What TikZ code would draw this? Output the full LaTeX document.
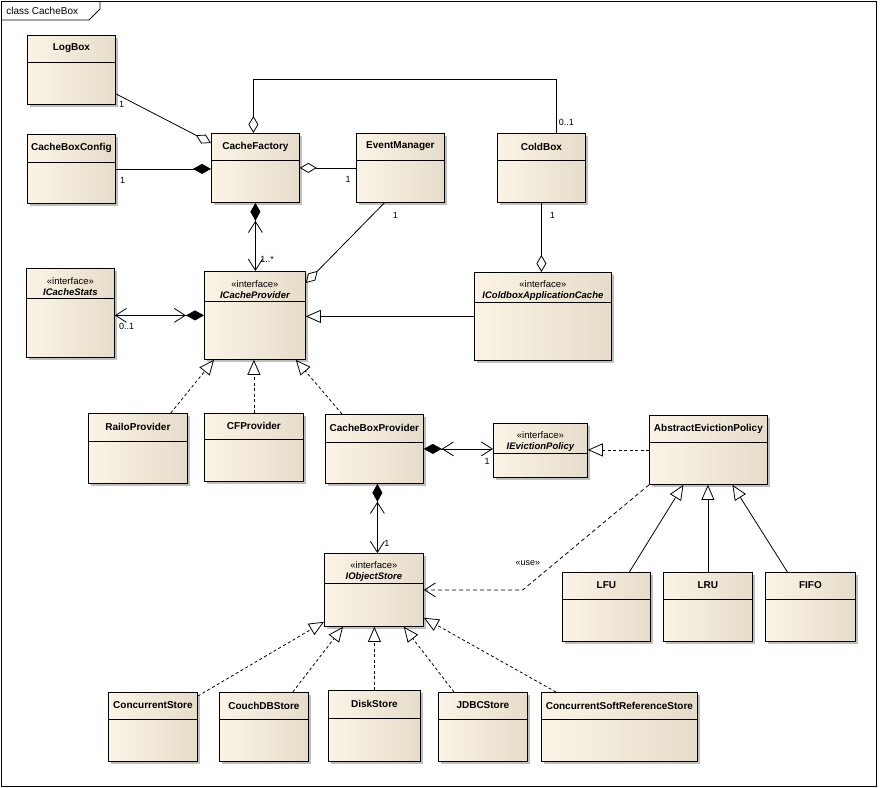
\documentclass[tikz,border=0pt]{standalone}
\usepackage{fontspec}
\setmainfont{Liberation Sans}
\usetikzlibrary{arrows.meta,shadows}

\definecolor{boxleft}{HTML}{FBF4E6}
\definecolor{boxright}{HTML}{E6DCCA}

\begin{document}
\begin{tikzpicture}
[x=1pt,y=-1pt,line width=0.8pt,%
  every node/.style={inner sep=0pt,font=\fontsize{9.5}{11}\selectfont},%
  umlbox/.style n args={3}{rectangle,draw,anchor=north west,
    left color=boxleft,right color=boxright,
    drop shadow={shadow xshift=3pt,shadow yshift=-3pt,fill=black!25,opacity=1},
    minimum width=#1,minimum height=#2,
    path picture={\draw ([yshift=-#3]path picture bounding box.north west)
      -- ([yshift=-#3]path picture bounding box.north east);}},%
  class/.style n args={4}{umlbox={#1}{#2}{#3},
    label={[anchor=center,yshift=-#3/2,font=\bfseries\fontsize{10}{12}\selectfont]north:#4}},%
  iface/.style n args={4}{umlbox={#1}{#2}{#3},
    label={[anchor=center,yshift=-19pt,align=center,font=\fontsize{9.5}{11}\selectfont]north:%
      «interface»\\{\bfseries\itshape #4}}},%
  mult/.style={font=\fontsize{9}{10}\selectfont},%
  aggr/.style={{Diamond[length=17pt,width=10pt,fill=white]}-},%
  comp/.style={{Diamond[length=18pt,width=10pt]}-},%
  compnav/.style={{Diamond[length=18pt,width=10pt] Straight Barb[length=11pt,width=14pt]}-{Straight Barb[length=11pt,width=14pt]}},%
  inherit/.style={-{Triangle[length=15pt,width=13pt,fill=white]}},%
  realize/.style={dash pattern=on 3pt off 2.5pt,-{Triangle[length=15pt,width=13pt,fill=white]}},%
  usedep/.style={dash pattern=on 4pt off 3pt,-{Straight Barb[length=11pt,width=14pt]}}]
\useasboundingbox (0,0) rectangle (880,787);
\draw (1,1) rectangle (876,786);
\draw (1,20) -- (89,20) -- (100,9) -- (100,1);
\node[anchor=west,font=\fontsize{10}{12}\selectfont] (title) at (6,11) {class CacheBox};

\node[class={88pt}{69pt}{27pt}{LogBox}] (logbox) at (27,35) {};
\node[class={88pt}{69pt}{28pt}{CacheBoxConfig}] (cacheboxconfig) at (27,134) {};
\node[class={88pt}{69pt}{27pt}{CacheFactory}] (cachefactory) at (211,133) {};
\node[class={88pt}{69pt}{27pt}{EventManager}] (eventmanager) at (356,133) {};
\node[class={88pt}{69pt}{27pt}{ColdBox}] (coldbox) at (497,133) {};
\node[iface={88pt}{89pt}{30pt}{ICacheStats}] (icachestats) at (26,268) {};
\node[iface={101pt}{88pt}{30pt}{ICacheProvider}] (icacheprovider) at (204,271) {};
\node[iface={137pt}{88pt}{30pt}{IColdboxApplicationCache}] (icoldbox) at (474,272) {};
\node[class={99pt}{70pt}{28pt}{RailoProvider}] (railoprovider) at (88,413) {};
\node[class={99pt}{68pt}{26pt}{CFProvider}] (cfprovider) at (204,413) {};
\node[class={98pt}{69pt}{28pt}{CacheBoxProvider}] (cacheboxprovider) at (325,414) {};
\node[iface={94pt}{54pt}{30pt}{IEvictionPolicy}] (ievictionpolicy) at (493,423) {};
\node[class={118pt}{69pt}{27pt}{AbstractEvictionPolicy}] (abstractevictionpolicy) at (649,415) {};
\node[class={88pt}{69pt}{27pt}{LFU}] (lfu) at (562,572) {};
\node[class={89pt}{69pt}{27pt}{LRU}] (lru) at (663,572) {};
\node[class={90pt}{69pt}{27pt}{FIFO}] (fifo) at (765,572) {};
\node[iface={99pt}{73pt}{30pt}{IObjectStore}] (iobjectstore) at (324,553) {};
\node[class={89pt}{69pt}{27pt}{ConcurrentStore}] (concurrentstore) at (108,692) {};
\node[class={89pt}{69pt}{27pt}{CouchDBStore}] (couchdbstore) at (219,692) {};
\node[class={92pt}{71pt}{28pt}{DiskStore}] (diskstore) at (328,690) {};
\node[class={89pt}{69pt}{27pt}{JDBCStore}] (jdbcstore) at (438,692) {};
\node[class={156pt}{69pt}{27pt}{ConcurrentSoftReferenceStore}] (softrefstore) at (541,692) {};

\draw[aggr] ([yshift=-10pt]cachefactory.north west) -- ([yshift=11pt]logbox.south east);
\draw[comp] (cachefactory.west |- cacheboxconfig.east) -- (cacheboxconfig.east);
\draw[aggr] (cachefactory.east |- eventmanager.west) -- (eventmanager.west);
\draw[aggr] ([xshift=-2pt]cachefactory.north) |- ([xshift=15pt,yshift=54pt]coldbox.north)
  -- ([xshift=15pt]coldbox.north);
\draw[aggr] (icoldbox.north -| coldbox.south) -- (coldbox.south);
\draw[aggr] ([yshift=-12pt]icacheprovider.north east) -- ([xshift=-16pt]eventmanager.south);
\draw[compnav] (cachefactory.south) -- (cachefactory.south |- icacheprovider.north);
\draw[compnav] (icacheprovider.west) -- (icacheprovider.west -| icachestats.east);
\draw[inherit] (icoldbox.west) -- (icoldbox.west -| icacheprovider.east);
\draw[realize] ([xshift=-17pt]railoprovider.north east) -- ([xshift=10pt]icacheprovider.south west);
\draw[realize] (cfprovider.north) -- (cfprovider.north |- icacheprovider.south);
\draw[realize] ([xshift=17pt]cacheboxprovider.north west) -- ([xshift=-10pt]icacheprovider.south east);
\draw[compnav] (cacheboxprovider.east) -- (cacheboxprovider.east -| ievictionpolicy.west);
\draw[realize] (abstractevictionpolicy.west) -- (abstractevictionpolicy.west -| ievictionpolicy.east);
\draw[inherit] ([xshift=23pt]lfu.north) -- ([xshift=-25pt]abstractevictionpolicy.south);
\draw[inherit] (lru.north) -- (lru.north |- abstractevictionpolicy.south);
\draw[inherit] ([xshift=-23pt]fifo.north) -- ([xshift=24pt]abstractevictionpolicy.south);
\draw[usedep] (abstractevictionpolicy.south west) -- ([xshift=99pt]iobjectstore.east) -- (iobjectstore.east);
\draw[compnav] ([xshift=3pt]cacheboxprovider.south) -- ([xshift=3pt]cacheboxprovider.south |- iobjectstore.north);
\draw[realize] ([yshift=-4pt]concurrentstore.north east) -- ([yshift=5pt]iobjectstore.south west);
\draw[realize] ([xshift=-16pt]couchdbstore.north east) -- ([xshift=19pt]iobjectstore.south west);
\draw[realize] (diskstore.north) -- (diskstore.north |- iobjectstore.south);
\draw[realize] ([xshift=16pt]jdbcstore.north west) -- ([xshift=-20pt]iobjectstore.south east);
\draw[realize] ([xshift=15pt]softrefstore.north west) -- ([yshift=9pt]iobjectstore.south east);

\node[mult,anchor=west] (mlogbox) at ([xshift=3pt]logbox.south east) {1};
\node[mult,anchor=west] (mconfig) at ([xshift=4pt,yshift=-12pt]cacheboxconfig.east) {1};
\node[mult,anchor=east] (mevent) at ([xshift=-5pt,yshift=-12pt]eventmanager.west) {1};
\node[mult] (meventdown) at ([xshift=-5pt,yshift=-13pt]eventmanager.south) {1};
\node[mult,anchor=west] (mcoldbox) at ([xshift=17pt,yshift=11pt]coldbox.north) {0..1};
\node[mult] (mcoldboxdown) at ([xshift=11pt,yshift=-13pt]coldbox.south) {1};
\node[mult,anchor=west] (mprovider) at ([xshift=5pt,yshift=12pt]icacheprovider.north) {1..*};
\node[mult,anchor=west] (mstats) at ([xshift=4pt,yshift=-13pt]icachestats.east) {0..1};
\node[mult,anchor=east] (meviction) at ([xshift=-3pt,yshift=-11pt]ievictionpolicy.west) {1};
\node[mult,anchor=west] (mstore) at ([xshift=10pt,yshift=10pt]iobjectstore.north) {1};
\node[mult] (muse) at ([xshift=104pt,yshift=27pt]iobjectstore.east) {«use»};
\end{tikzpicture}
\end{document}
